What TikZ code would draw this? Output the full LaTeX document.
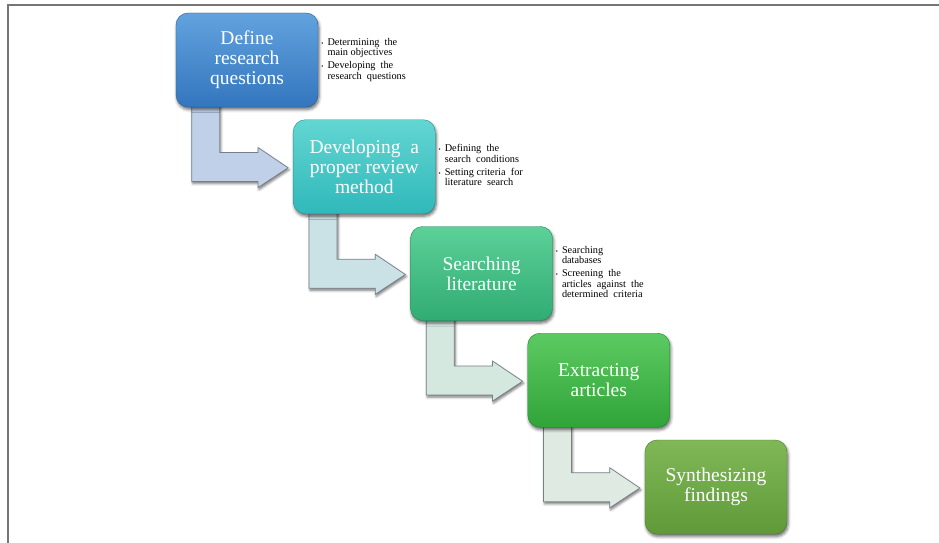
\documentclass[tikz,border=0pt]{standalone}
\usepackage{fontspec}
\setmainfont{Liberation Serif}
\usetikzlibrary{calc,backgrounds,shadows.blur}

\definecolor{frameline}{RGB}{118,118,118}
\definecolor{blueTop}{RGB}{98,162,222}
\definecolor{blueBot}{RGB}{52,118,190}
\definecolor{tealTop}{RGB}{98,214,210}
\definecolor{tealBot}{RGB}{48,184,186}
\definecolor{jadeTop}{RGB}{92,208,152}
\definecolor{jadeBot}{RGB}{48,172,114}
\definecolor{leafTop}{RGB}{92,202,98}
\definecolor{leafBot}{RGB}{48,164,56}
\definecolor{oliveTop}{RGB}{128,184,88}
\definecolor{oliveBot}{RGB}{96,154,56}
\definecolor{arrowA}{RGB}{192,208,232}
\definecolor{arrowB}{RGB}{202,226,230}
\definecolor{arrowC}{RGB}{212,232,224}
\definecolor{arrowD}{RGB}{222,234,226}
\definecolor{arrowEdge}{RGB}{118,126,136}

\newcommand{\notedot}{{\fontsize{6}{6}\selectfont\textbullet}}

\begin{document}
\begin{tikzpicture}[x=1pt,y=-1pt,
    stepbox/.style={rounded corners=12pt, minimum width=142pt, minimum height=94pt,
        inner sep=0pt, align=center, text=white, draw=#1Bot!80!black, line width=0.4pt,
        top color=#1Top, bottom color=#1Bot,
        font=\fontsize{19.5}{20}\selectfont,
        blur shadow={shadow xshift=1pt, shadow yshift=-2.5pt, shadow blur radius=3pt, shadow opacity=60}},
    notes/.style={anchor=west, inner sep=0pt, font=\fontsize{10.3}{10.5}\selectfont},
    bent/.style={fill=#1, draw=arrowEdge, line width=0.7pt,
        blur shadow={shadow xshift=1pt, shadow yshift=-2pt, shadow blur radius=2.5pt, shadow opacity=55}}]
    \useasboundingbox (0,0) rectangle (939,543);

    % Frame
    \draw[frameline, line width=1.4pt] (8,543) -- (8,5) -- (939,5);

    % Steps
    \node[stepbox=blue] (b1) at (247,60) {Define\\research\\questions};
    \node[stepbox=teal] (b2) at (364.25,166.75) {Developing~ a\\proper review\\method};
    \node[stepbox=jade] (b3) at (481.5,273.5) {Searching\\literature};
    \node[stepbox=leaf] (b4) at (598.75,380.25) {Extracting\\articles};
    \node[stepbox=olive] (b5) at (716,487) {Synthesizing\\findings};

    % Notes
    \node[notes] (n1) at ($(b1.east)+(3,0)$) {\begin{tabular}{@{}l@{\hspace{4pt}}l@{}}
        \notedot & Determining~ the\\ & main objectives\\[2.5pt]
        \notedot & Developing~ the\\ & research~ questions\end{tabular}};
    \node[notes] (n2) at ($(b2.east)+(3,0)$) {\begin{tabular}{@{}l@{\hspace{4pt}}l@{}}
        \notedot & Defining~ the\\ & search~ conditions\\[2.5pt]
        \notedot & Setting criteria~ for\\ & literature~ search\end{tabular}};
    \node[notes] (n3) at ($(b3.east)+(3,0)$) {\begin{tabular}{@{}l@{\hspace{4pt}}l@{}}
        \notedot & Searching\\ & databases\\[2.5pt]
        \notedot & Screening~ the\\ & articles~ against~ the\\ & determined~ criteria\end{tabular}};

    % Connectors
    \begin{scope}[on background layer]
        \draw[bent=arrowA] ($(b1.south west)+(16,-4)$) coordinate (a1) -- ++(28,0)
            |- ($(b2.north west)+(-35,33)$) -- ++(0,-5) -- ($(b2.west)+(-5,1)$)
            -- ($(b2.north west)+(-35,68)$) -- ++(0,-6) -| (a1) -- cycle;
        \draw[bent=arrowB] ($(b2.south west)+(16,-4)$) coordinate (a2) -- ++(28,0)
            |- ($(b3.north west)+(-35,33)$) -- ++(0,-5) -- ($(b3.west)+(-5,1)$)
            -- ($(b3.north west)+(-35,68)$) -- ++(0,-6) -| (a2) -- cycle;
        \draw[bent=arrowC] ($(b3.south west)+(16,-4)$) coordinate (a3) -- ++(28,0)
            |- ($(b4.north west)+(-35,33)$) -- ++(0,-5) -- ($(b4.west)+(-5,1)$)
            -- ($(b4.north west)+(-35,68)$) -- ++(0,-6) -| (a3) -- cycle;
        \draw[bent=arrowD] ($(b4.south west)+(16,-4)$) coordinate (a4) -- ++(28,0)
            |- ($(b5.north west)+(-35,33)$) -- ++(0,-5) -- ($(b5.west)+(-5,1)$)
            -- ($(b5.north west)+(-35,68)$) -- ++(0,-6) -| (a4) -- cycle;
    \end{scope}
\end{tikzpicture}
\end{document}
